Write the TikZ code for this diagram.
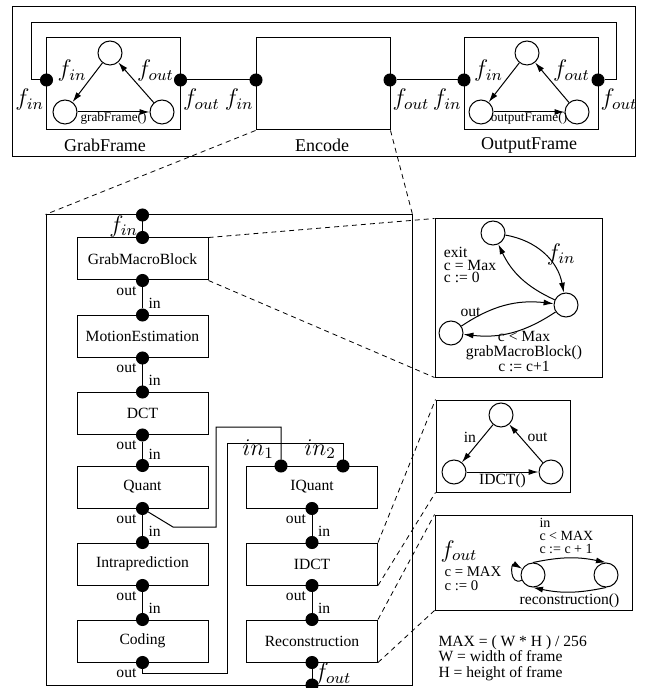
\documentclass[tikz,border=0pt]{standalone}
\usepackage{amsmath,amsfonts,amssymb}
\usepackage{fontspec}
\setmainfont{Liberation Serif}
\usepackage{xcolor}
\usepackage{tikz}
\usetikzlibrary{positioning, arrows.meta}

\tikzset{
  frame/.style={draw, minimum width=67pt, minimum height=46pt, inner sep=0pt},
  block/.style={draw, minimum width=65.5pt, minimum height=21pt, inner sep=0pt, font=\fontsize{7.8}{9}\selectfont},
  fsmbox/.style={draw, inner sep=0pt},
  port/.style={circle, fill=black, draw=black, inner sep=0pt, minimum size=6pt},
  state/.style={circle, draw, inner sep=0pt, minimum size=12pt},
  portlbl/.style={font=\fontsize{7.8}{9}\selectfont, inner sep=0.5pt},
  sig/.style={font=\fontsize{11.5}{12}\selectfont, inner sep=1pt},
  fsmtxt/.style={font=\fontsize{7.8}{6.4}\selectfont, align=left, inner sep=0.5pt},
  trans/.style={-{Latex[length=5pt,width=3pt]}},
  zoomline/.style={dash pattern=on 2.5pt off 2pt, line width=0.4pt},
}

\begin{document}
\begin{tikzpicture}[x=0.5pt, y=-0.5pt, line width=0.5pt]
  \useasboundingbox (0,0) rectangle (646,688);

  % application level
  \draw (12,7) rectangle (635,157);
  \node[frame] (grab) at (113.5,84) {};
  \node[frame] (enc) at (323,84) {};
  \node[frame] (outp) at (531,84) {};
  \node[font=\fontsize{9}{10}\selectfont] (grabname) at (105,145) {GrabFrame};
  \node[font=\fontsize{9}{10}\selectfont] (encname) at (322,145) {Encode};
  \node[font=\fontsize{9}{10}\selectfont] (outpname) at (529,145) {OutputFrame};

  \node[port, label={[sig, anchor=north east]below:$f_{in}$}] (grabIn) at (46.5,80) {};
  \node[port, label={[sig, anchor=north west]below:$f_{out}$}] (grabOut) at (180.5,80) {};
  \node[port, label={[sig, anchor=north east]below:$f_{in}$}] (encIn) at (256,80) {};
  \node[port, label={[sig, anchor=north west]below:$f_{out}$}] (encOut) at (390,80) {};
  \node[port, label={[sig, anchor=north east]below:$f_{in}$}] (outpIn) at (464,80) {};
  \node[port, label={[sig, anchor=north west]below:$f_{out}$}] (outpOut) at (598,80) {};

  \draw (grabOut) -- (encIn);
  \draw (encOut) -- (outpIn);
  \draw (grabIn) -| (31,23) -| (616,80) -- (outpOut);

  % GrabFrame behaviour
  \node[state] (gfA) at (110,53) {};
  \node[state] (gfB) at (65,112) {};
  \node[state] (gfC) at (162,112) {};
  \draw[trans] (gfA) -- node[sig, above left=-1pt] {$f_{in}$} (gfB);
  \draw[trans] (gfC) -- node[sig, above right=-1pt] {$f_{out}$} (gfA);
  \draw[trans] (gfB) -- node[below=-1pt, inner sep=1pt, font=\fontsize{6.6}{7}\selectfont] {grabFrame()} (gfC);

  % OutputFrame behaviour
  \node[state] (ofA) at (527,53) {};
  \node[state] (ofB) at (481,112) {};
  \node[state] (ofC) at (577,112) {};
  \draw[trans] (ofA) -- node[sig, above left=-1pt] {$f_{in}$} (ofB);
  \draw[trans] (ofC) -- node[sig, above right=-1pt] {$f_{out}$} (ofA);
  \draw[trans] (ofB) -- node[below=-1pt, inner sep=1pt, font=\fontsize{6.6}{7}\selectfont] {outputFrame()} (ofC);

  % inside of Encode
  \node[draw, minimum width=183pt, minimum height=235pt, inner sep=0pt] (encbody) at (229,450) {};
  \draw[zoomline] (enc.south west) -- (encbody.north west);
  \draw[zoomline] (enc.south east) -- (encbody.north east);

  \node[block] (gmb) at (142.5,259) {GrabMacroBlock};
  \node[block] (me) at (142.5,336.5) {MotionEstimation};
  \node[block] (dct) at (142.5,413.5) {DCT};
  \node[block] (quant) at (142.5,487) {Quant};
  \node[block] (intra) at (142.5,564) {Intraprediction};
  \node[block] (coding) at (142.5,641) {Coding};
  \node[block] (iquant) at (312,487) {IQuant};
  \node[block] (idct) at (312,564) {IDCT};
  \node[block] (recon) at (312,641) {Reconstruction};

  \node[port] (topIn) at (142.5,215) {};
  \node[port] (botOut) at (312,685) {};
  \node[port] (gmbIn) at (gmb.north) {};
  \node[port, label={[portlbl]below left:out}] (gmbOut) at (gmb.south) {};
  \node[port, label={[portlbl]above right:in}] (meIn) at (me.north) {};
  \node[port, label={[portlbl]below left:out}] (meOut) at (me.south) {};
  \node[port, label={[portlbl]above right:in}] (dctIn) at (dct.north) {};
  \node[port, label={[portlbl]below left:out}] (dctOut) at (dct.south) {};
  \node[port, label={[portlbl]above right:in}] (quantIn) at (quant.north) {};
  \node[port, label={[portlbl]below left:out}] (quantOut) at (quant.south) {};
  \node[port, label={[portlbl]above right:in}] (intraIn) at (intra.north) {};
  \node[port, label={[portlbl]below left:out}] (intraOut) at (intra.south) {};
  \node[port, label={[portlbl]above right:in}] (codingIn) at (coding.north) {};
  \node[port, label={[portlbl]below left:out}] (codingOut) at (coding.south) {};
  \node[port, label={[sig]above left:$in_1$}] (iqIn1) at (281,466) {};
  \node[port, label={[sig]above left:$in_2$}] (iqIn2) at (343,466) {};
  \node[port, label={[portlbl]below left:out}] (iqOut) at (iquant.south) {};
  \node[port, label={[portlbl]above right:in}] (idctIn) at (idct.north) {};
  \node[port, label={[portlbl]below left:out}] (idctOut) at (idct.south) {};
  \node[port, label={[portlbl]above right:in}] (reconIn) at (recon.north) {};
  \node[port] (reconOut) at (recon.south) {};

  \draw (topIn) -- node[sig, left=1pt] {$f_{in}$} (gmbIn);
  \draw (gmbOut) -- (meIn);
  \draw (meOut) -- (dctIn);
  \draw (dctOut) -- (quantIn);
  \draw (quantOut) -- (intraIn);
  \draw (intraOut) -- (codingIn);
  \draw (iqOut) -- (idctIn);
  \draw (idctOut) -- (reconIn);
  \draw (reconOut) -- node[sig, right] {$f_{out}$} (botOut);
  \draw (quantOut) -- (173,527) -| (216,427) -| (iqIn1);
  \draw (codingOut) |- (227,673) |- (343,443) -- (iqIn2);

  % GrabMacroBlock behaviour
  \node[fsmbox, minimum width=83.5pt, minimum height=79pt] (gmbfsm) at (518.5,298) {};
  \draw[zoomline] (gmb.north east) -- (gmbfsm.north west);
  \draw[zoomline] (gmb.south east) -- (gmbfsm.south west);
  \node[state] (gmA) at (493,233) {};
  \node[state] (gmB) at (566,305) {};
  \node[state] (gmC) at (451,333) {};
  \draw[trans] (gmA) to[bend left=35] node[sig, right] {$f_{in}$} (gmB);
  \draw[trans] (gmB) to[bend left=20] (gmA);
  \draw[trans] (gmC) to[bend left=20] node[fsmtxt, pos=0.1, above=1pt] {out} (gmB);
  \draw[trans] (gmB) to[bend left=20] (gmC);
  \node[fsmtxt] (exitLbl) at (470,265) {exit\\c = Max\\c := 0};
  \node[fsmtxt, align=center, font=\fontsize{7.8}{7.5}\selectfont] (stayLbl) at (524,352) {c < Max\\grabMacroBlock()\\c := c+1};

  % IDCT behaviour
  \node[fsmbox, minimum width=67pt, minimum height=46pt] (idctfsm) at (503,446) {};
  \draw[zoomline] (idct.north east) -- (idctfsm.north west);
  \draw[zoomline] (idct.south east) -- (idctfsm.south west);
  \node[state] (idA) at (501,415) {};
  \node[state] (idB) at (454,472) {};
  \node[state] (idC) at (551,472) {};
  \draw[trans] (idA) -- node[fsmtxt, above left] {in} (idB);
  \draw[trans] (idC) -- node[fsmtxt, above right] {out} (idA);
  \draw[trans] (idB) -- node[fsmtxt, below] {IDCT()} (idC);

  % Reconstruction behaviour
  \node[fsmbox, minimum width=98.5pt, minimum height=47.5pt] (reconfsm) at (533.5,562.5) {};
  \draw[zoomline] (recon.north east) -- (reconfsm.north west);
  \draw[zoomline] (recon.south east) -- (reconfsm.south west);
  \node[state] (rcA) at (533,575) {};
  \node[state] (rcB) at (606,575) {};
  \draw[trans] (rcA.north) to[bend left=12] (rcB.north);
  \draw[trans] (rcB.south) to[bend left=12] node[fsmtxt, below] {reconstruction()} (rcA.south);
  \draw[trans] (rcA) to[out=205, in=150, looseness=3] (rcA);
  \node[fsmtxt, anchor=west, font=\fontsize{7}{6.4}\selectfont] (incLbl) at (538,536) {in\\c < MAX\\c := c + 1};
  \node[sig, anchor=west] (foutLbl) at (438,551) {$f_{out}$};
  \node[fsmtxt, anchor=west, font=\fontsize{7.4}{6.8}\selectfont] (resetLbl) at (443,579) {c = MAX\\c := 0};

  \node[anchor=north west, align=left, inner sep=0.5pt, font=\fontsize{7.8}{7.8}\selectfont] (maxNote) at (437,634) {MAX = ( W * H ) / 256\\W = width of frame\\H = height of frame};
\end{tikzpicture}
\end{document}
